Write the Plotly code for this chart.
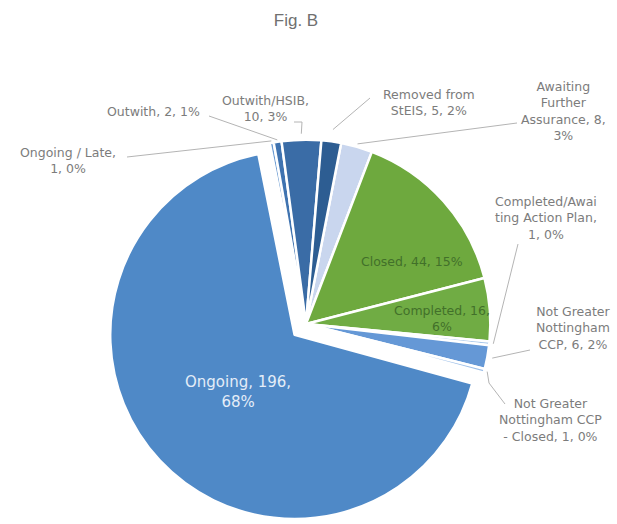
import math
import plotly.graph_objects as go

# Incident status breakdown
categories = [
    "Awaiting Further Assurance",
    "Closed",
    "Completed",
    "Completed/Awaiting Action Plan",
    "Not Greater Nottingham CCP",
    "Not Greater Nottingham CCP - Closed",
    "Ongoing",
    "Ongoing / Late",
    "Outwith",
    "Outwith/HSIB",
    "Removed from StEIS",
]
counts = [8, 44, 16, 1, 6, 1, 196, 1, 2, 10, 5]
slice_colors = [
    "#c9d6ee", "#6ea93e", "#70ac44", "#a9c8ea", "#6598d6", "#9dbfe8",
    "#4f89c7", "#6b9bd2", "#3f73b0", "#3a6ca6", "#2d5d92",
]
pulls = [0, 0, 0, 0, 0, 0, 0.085, 0, 0, 0, 0]

# Label text templates ({v} = count, {p} = rounded percentage)
label_templates = {
    "Awaiting Further Assurance": "Awaiting<br>Further<br>Assurance, {v},<br>{p}%",
    "Closed": "Closed, {v}, {p}%",
    "Completed": "Completed, {v},<br>{p}%",
    "Completed/Awaiting Action Plan": "Completed/Awai<br>ting Action Plan,<br>{v}, {p}%",
    "Not Greater Nottingham CCP": "Not Greater<br>Nottingham<br>CCP, {v}, {p}%",
    "Not Greater Nottingham CCP - Closed": "Not Greater<br>Nottingham CCP<br>- Closed, {v}, {p}%",
    "Ongoing": "Ongoing, {v},<br>{p}%",
    "Ongoing / Late": "Ongoing / Late,<br>{v}, {p}%",
    "Outwith": "Outwith, {v}, {p}%",
    "Outwith/HSIB": "Outwith/HSIB,<br>{v}, {p}%",
    "Removed from StEIS": "Removed from<br>StEIS, {v}, {p}%",
}

# Layout of the plot box (pixels)
W_FIG, H_FIG = 617, 524
L, T, BOX = 106, 124, 400
START_ANGLE = 11

CX, CY = L + BOX / 2, T + BOX / 2
R = (BOX / 2) / (1 + max(pulls))


def to_paper(px, py):
    return (px - L) / BOX, 1 - (py - T) / BOX


total = sum(counts)
mid_angle = {}
acc = 0
for name, v in zip(categories, counts):
    mid_angle[name] = START_ANGLE + (acc + v / 2) * 360 / total
    acc += v


def edge_point(name, ext):
    a = math.radians(mid_angle[name])
    return CX + (R + ext) * math.sin(a), CY - (R + ext) * math.cos(a)


def label_text(name):
    v = counts[categories.index(name)]
    p = round(v / total * 100)
    return label_templates[name].format(v=v, p=p)


fig = go.Figure(
    go.Pie(
        labels=categories,
        values=counts,
        sort=False,
        direction="clockwise",
        rotation=START_ANGLE,
        pull=pulls,
        marker=dict(colors=slice_colors, line=dict(color="white", width=2.5)),
        textinfo="none",
        hoverinfo="label+value+percent",
        showlegend=False,
    )
)

GREY = "#7c7c7c"
FONT = "DejaVu Sans"
FSIZE = 12.5

# Outside labels: text centre, leader points near the text, extension beyond rim
outside = [
    ("Ongoing / Late", (68, 160), [(127, 157)], 2),
    ("Outwith", (153, 112), [(209, 116)], 2),
    ("Outwith/HSIB", (265, 109), [(294, 122), (302, 122)], 6),
    ("Removed from StEIS", (429, 102), [(370, 98)], 12),
    ("Awaiting Further Assurance", (563, 111), [(517, 123)], 3),
    ("Completed/Awaiting Action Plan", (546, 218), [(518, 244)], 4),
    ("Not Greater Nottingham CCP", (573, 328), [(530, 350)], 5),
    ("Not Greater Nottingham CCP - Closed", (550, 420), [(505, 404), (489, 383)], 3),
]

annotations = []
shapes = []
for name, (tx, ty), pts, ext in outside:
    x, y = to_paper(tx, ty)
    annotations.append(dict(
        x=x, y=y, xref="paper", yref="paper", text=label_text(name),
        showarrow=False, font=dict(family=FONT, size=FSIZE, color=GREY),
        xanchor="center", yanchor="middle", align="center",
    ))
    path_pts = pts + [edge_point(name, ext)]
    d = ""
    for i, (px, py) in enumerate(path_pts):
        qx, qy = to_paper(px, py)
        d += ("M" if i == 0 else " L") + f" {qx:.5f} {qy:.5f}"
    shapes.append(dict(type="path", xref="paper", yref="paper", path=d,
                       line=dict(color="#b4b4b4", width=1)))

# Labels drawn inside their slices
inside = [
    ("Closed", (412, 261), "#42702a", FSIZE),
    ("Completed", (442, 318), "#42702a", FSIZE),
    ("Ongoing", (238, 392), "#e4edf8", 15),
]
for name, (tx, ty), col, size in inside:
    x, y = to_paper(tx, ty)
    annotations.append(dict(
        x=x, y=y, xref="paper", yref="paper", text=label_text(name),
        showarrow=False, font=dict(family=FONT, size=size, color=col),
        xanchor="center", yanchor="middle", align="center",
    ))

fig.update_layout(
    width=W_FIG, height=H_FIG, autosize=False,
    margin=dict(l=L, r=W_FIG - L - BOX, t=T, b=H_FIG - T - BOX),
    paper_bgcolor="white", plot_bgcolor="white",
    title=dict(text="Fig. B", x=296 / W_FIG, xref="container", xanchor="center",
               y=1 - 20 / H_FIG, yref="container", yanchor="middle",
               font=dict(family="Liberation Sans", size=17, color="#707070")),
    annotations=annotations,
    shapes=shapes,
)

fig.write_html("out.html")
